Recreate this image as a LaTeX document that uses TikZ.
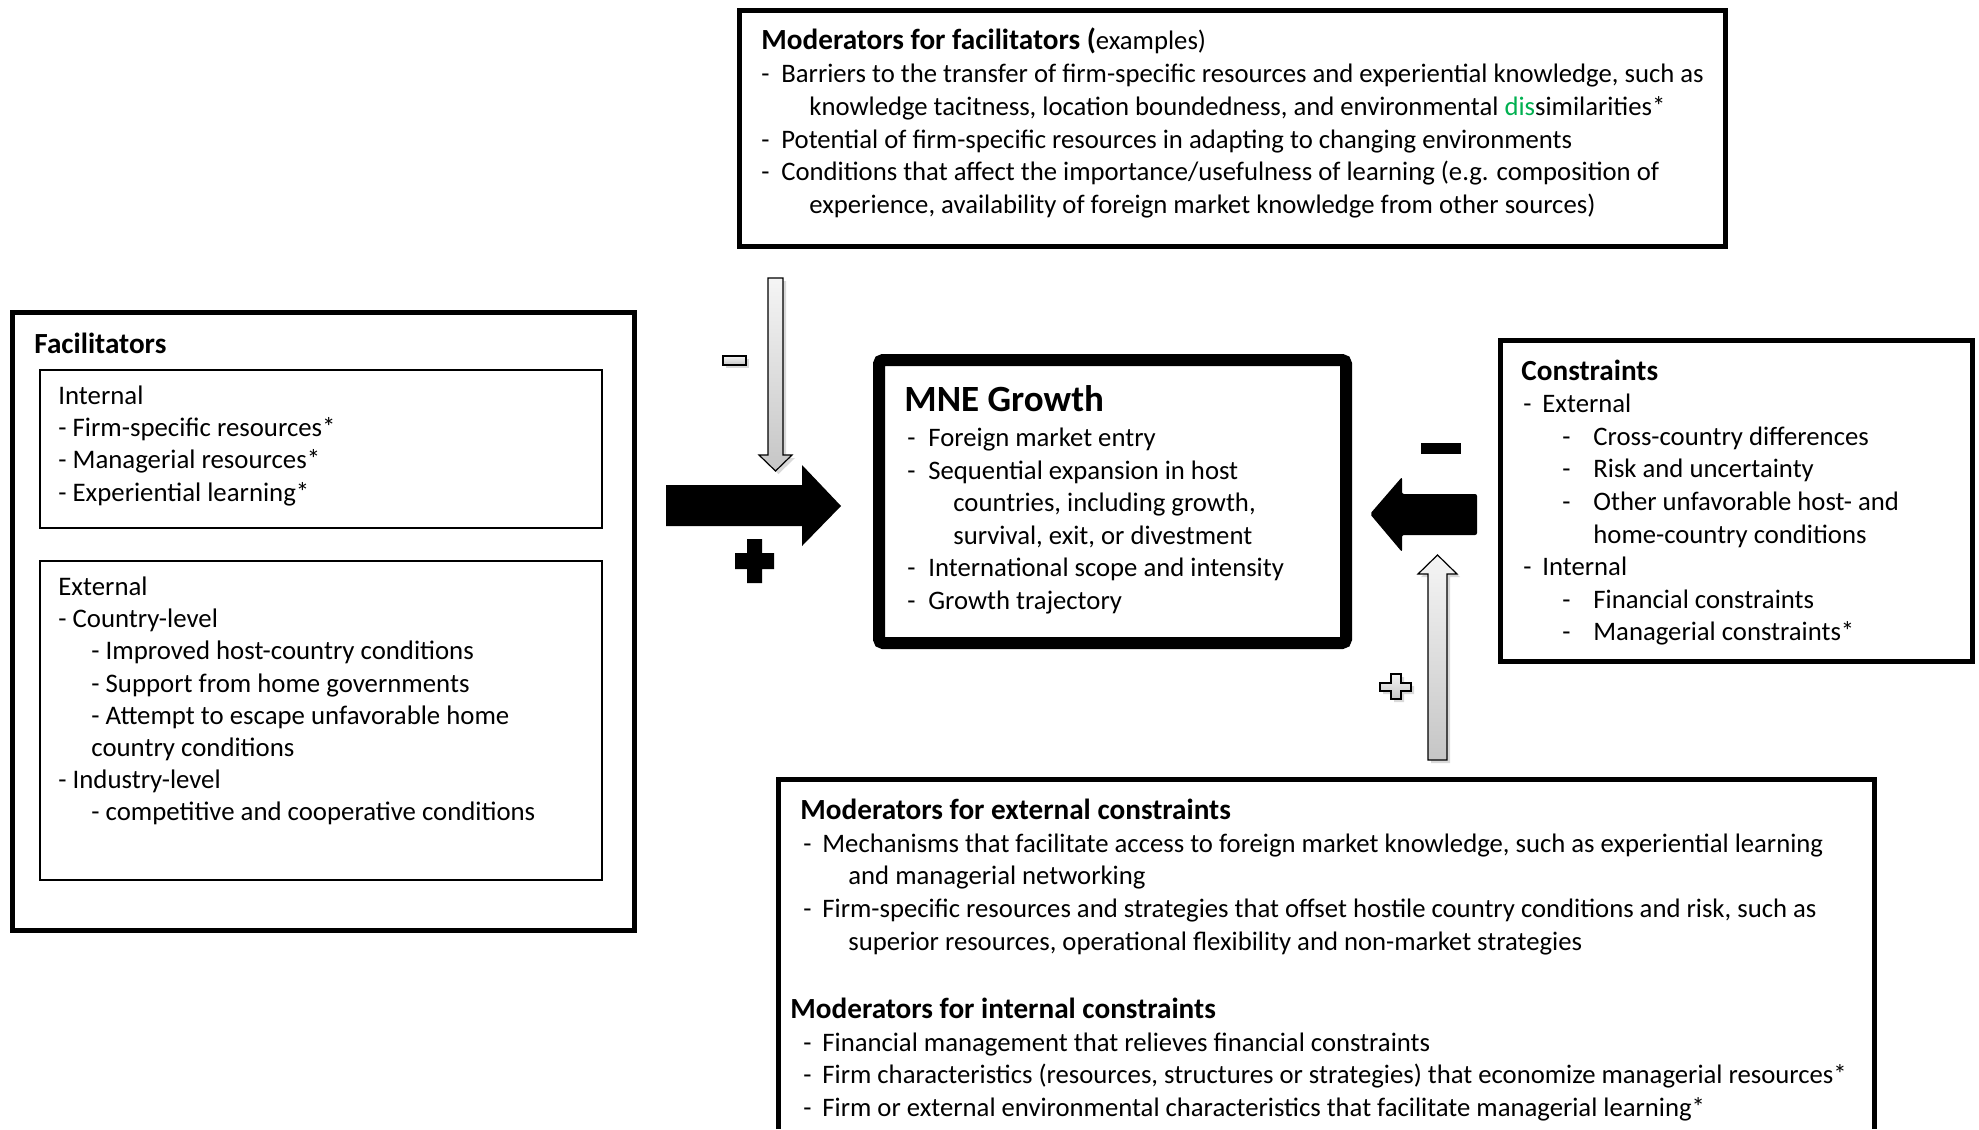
\documentclass[tikz,border=0pt]{standalone}
\usepackage{fontspec}
\setmainfont{Carlito}
\usetikzlibrary{shadows}
\definecolor{disgreen}{RGB}{0,176,80}

\tikzstyle{box} = [draw, line width=2.5pt]
\tikzstyle{thinbox} = [draw, line width=0.75pt]
\tikzstyle{ttl} = [inner sep=0pt, anchor=base west, font=\fontsize{14.6}{17}\selectfont\bfseries]
\tikzstyle{txt} = [inner sep=0pt, anchor=north west, align=left, font=\fontsize{13.35}{16.3}\selectfont]
\tikzstyle{txtl} = [inner sep=0pt, anchor=north west, align=left, font=\fontsize{13.4}{16.1}\selectfont]
\tikzstyle{grayarrow} = [draw, line width=0.6pt, top color=gray!8, bottom color=gray!45, drop shadow={opacity=0.3, shadow xshift=1.5pt, shadow yshift=-1.5pt}]
\newcommand{\bul}[1][10pt]{\makebox[#1][l]{-}}

\begin{document}
\begin{tikzpicture}[x=0.5pt, y=-0.5pt]
      \useasboundingbox (0,0) rectangle (1979,1129);
      % moderators for facilitators
      \draw[box] (739.5,10.5) rectangle (1725.5,246.5);
      \node[ttl] (modfactitle) at (761,50) {Moderators for facilitators (\textmd{\fontsize{13.35}{16}\selectfont examples)}};
      \node[txt] (modfac) at (761,59.7) {\strut\bul Barriers to the transfer of firm-specific resources and experiential knowledge, such as\\
        \hspace*{24pt}knowledge tacitness, location boundedness, and environmental \textcolor{disgreen}{dis}similarities*\\
        \bul Potential of firm-specific resources in adapting to changing environments\\
        \bul Conditions that affect the importance/usefulness of learning (e.g. composition of\\
        \hspace*{24pt}experience, availability of foreign market knowledge from other sources)};
      % facilitators
      \draw[box] (12.5,312.5) rectangle (634.5,930.5);
      \node[ttl] (factitle) at (34,353) {Facilitators};
      \draw[thinbox] (40,370) rectangle (602,528);
      \node[txtl] (facint) at (58,381.5) {\strut Internal\\- Firm-specific resources*\\- Managerial resources*\\- Experiential learning*};
      \draw[thinbox] (40,561) rectangle (602,880);
      \node[txtl] (facext) at (58,572.5) {\strut External\\- Country-level\\
        \hspace*{16.5pt}- Improved host-country conditions\\
        \hspace*{16.5pt}- Support from home governments\\
        \hspace*{16.5pt}- Attempt to escape unfavorable home\\
        \hspace*{16.5pt}country conditions\\
        - Industry-level\\
        \hspace*{16.5pt}- competitive and cooperative conditions};
      % MNE growth
      \draw[line width=6pt, rounded corners=2pt, fill=white, drop shadow={opacity=0.35, shadow xshift=2pt, shadow yshift=-2pt}] (879,360) rectangle (1346,643);
      \node[ttl, font=\fontsize{18.5}{22}\selectfont\bfseries] (mnetitle) at (904,411) {MNE Growth};
      \node[txt] (mne) at (907,423.2) {\strut\bul[10.5pt]Foreign market entry\\
        \bul[10.5pt]Sequential expansion in host\\
        \hspace*{23pt}countries, including growth,\\
        \hspace*{23pt}survival, exit, or divestment\\
        \bul[10.5pt]International scope and intensity\\
        \bul[10.5pt]Growth trajectory};
      % constraints
      \draw[box] (1500.5,340.5) rectangle (1972.5,661.5);
      \node[ttl] (contitle) at (1521,380) {Constraints};
      \node[txt] (con) at (1523,389.5) {\strut\bul[9.5pt]External\\
        \hspace*{19.5pt}\bul[15.5pt]Cross-country differences\\
        \hspace*{19.5pt}\bul[15.5pt]Risk and uncertainty\\
        \hspace*{19.5pt}\bul[15.5pt]Other unfavorable host- and\\
        \hspace*{35pt}home-country conditions\\
        \bul[9.5pt]Internal\\
        \hspace*{19.5pt}\bul[15.5pt]Financial constraints\\
        \hspace*{19.5pt}\bul[15.5pt]Managerial constraints*};
      % moderators for constraints
      \draw[box] (778.5,1129) -- (778.5,779.5) -- (1874.5,779.5) -- (1874.5,1129);
      \node[ttl] (modexttitle) at (800,819.5) {Moderators for external constraints};
      \node[txt] (modext) at (803,829) {\strut\bul[9.5pt]Mechanisms that facilitate access to foreign market knowledge, such as experiential learning\\
        \hspace*{22.5pt}and managerial networking\\
        \bul[9.5pt]Firm-specific resources and strategies that offset hostile country conditions and risk, such as\\
        \hspace*{22.5pt}superior resources, operational flexibility and non-market strategies};
      \node[ttl] (modinttitle) at (790,1018.5) {Moderators for internal constraints};
      \node[txt] (modint) at (803,1028) {\strut\bul[9.5pt]Financial management that relieves financial constraints\\
        \bul[9.5pt]Firm characteristics (resources, structures or strategies) that economize managerial resources*\\
        \bul[9.5pt]Firm or external environmental characteristics that facilitate managerial learning*};
      % arrows and signs
      \fill (666,485) -- (802,485) -- (802,465) -- (841,506) -- (802,546) -- (802,526) -- (666,526) -- cycle;
      \fill (747,539) rectangle (762,583) (735,553) rectangle (774,569);
      \draw[grayarrow] (768,278) -- (783,278) -- (783,455) -- (792,455) -- (775.5,471) -- (759,455) -- (768,455) -- cycle;
      \draw[grayarrow] (723,356) rectangle (746,365);
      \fill[rounded corners=1pt] (1477,494) -- (1402,494) -- (1402,477) -- (1370,514) -- (1402,552) -- (1402,535) -- (1477,535) -- cycle;
      \fill (1421,443) rectangle (1461,454);
      \draw[grayarrow] (1428,760) -- (1447,760) -- (1447,574) -- (1457,574) -- (1437.5,555) -- (1418,574) -- (1428,574) -- cycle;
      \draw[grayarrow] (1391,674) -- (1401,674) -- (1401,683) -- (1411,683) -- (1411,691) -- (1401,691) -- (1401,699) -- (1391,699) -- (1391,691) -- (1380,691) -- (1380,683) -- (1391,683) -- cycle;
    \end{tikzpicture}
\end{document}
